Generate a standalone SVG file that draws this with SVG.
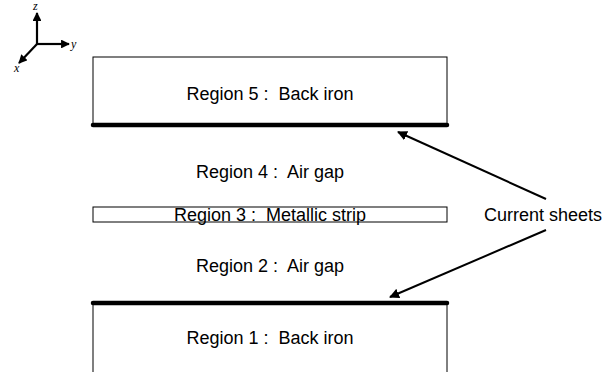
<svg xmlns="http://www.w3.org/2000/svg" width="613" height="372" viewBox="0 0 613 372">
<style>
.lbl{font-family:"Liberation Sans",Arial,sans-serif;font-size:18px;fill:#000;text-anchor:middle;white-space:pre}
.ax{font-family:"Liberation Serif","Times New Roman",serif;font-style:italic;font-size:12px;fill:#000}
.box{fill:#fff;stroke:#000;stroke-width:1}
.sheet{stroke:#000;stroke-width:4.5;stroke-linecap:round}
.arr{stroke:#000;stroke-width:2;fill:none}
</style>
<defs>
<marker id="ah" viewBox="0 0 10 10" refX="9" refY="5" markerWidth="5" markerHeight="5" orient="auto" markerUnits="strokeWidth">
<path d="M0,0 L10,5 L0,10 z" fill="#000"/>
</marker>
<marker id="ah2" viewBox="0 0 10 10" refX="9" refY="5" markerWidth="4" markerHeight="4" orient="auto" markerUnits="strokeWidth">
<path d="M0,0 L10,5 L0,10 z" fill="#000"/>
</marker>
</defs>
<g id="axes">
<line x1="37" y1="44" x2="37" y2="13" stroke="#000" stroke-width="2.2" marker-end="url(#ah2)"/>
<line x1="37" y1="44" x2="69" y2="44" stroke="#000" stroke-width="2.2" marker-end="url(#ah2)"/>
<line x1="37" y1="44" x2="19" y2="63" stroke="#000" stroke-width="2.2" marker-end="url(#ah2)"/>
<text class="ax" x="33" y="10">z</text>
<text class="ax" x="71" y="48">y</text>
<text class="ax" x="14" y="72">x</text>
</g>
<g id="region5">
<rect class="box" x="93" y="57" width="354" height="68"/>
<line class="sheet" x1="93" y1="125" x2="447" y2="125"/>
<text class="lbl" x="270" y="100" xml:space="preserve">Region 5 :  Back iron</text>
</g>
<g id="region4">
<text class="lbl" x="270" y="178" xml:space="preserve">Region 4 :  Air gap</text>
</g>
<g id="region3">
<rect class="box" x="93" y="207" width="354" height="15"/>
<text class="lbl" x="270" y="221" xml:space="preserve">Region 3 :  Metallic strip</text>
</g>
<g id="region2">
<text class="lbl" x="270" y="272" xml:space="preserve">Region 2 :  Air gap</text>
</g>
<g id="region1">
<rect class="box" x="93" y="303" width="354" height="80"/>
<line class="sheet" x1="93" y1="303" x2="447" y2="303"/>
<text class="lbl" x="270" y="344" xml:space="preserve">Region 1 :  Back iron</text>
</g>
<g id="current-sheets">
<text class="lbl" x="543" y="221">Current sheets</text>
</g>
<g id="connectors">
<line class="arr" x1="546" y1="199" x2="398" y2="132" marker-end="url(#ah)"/>
<line class="arr" x1="546" y1="230" x2="390" y2="297" marker-end="url(#ah)"/>
</g>
</svg>
